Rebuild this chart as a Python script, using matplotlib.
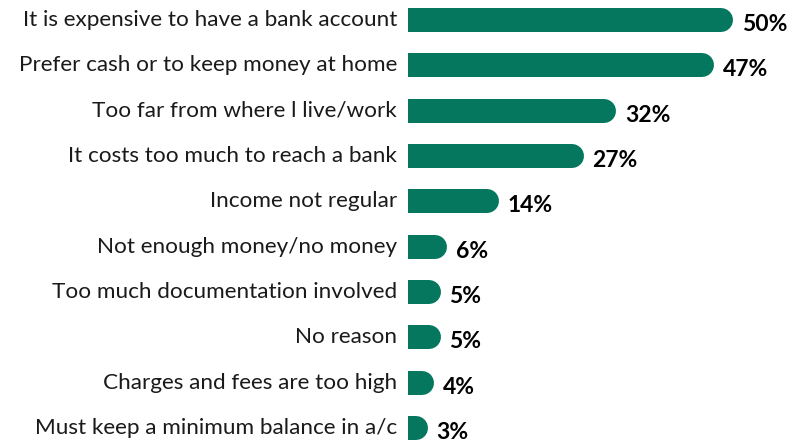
import matplotlib
matplotlib.use("Agg")
import matplotlib.pyplot as plt

categories = [
    "It is expensive to have a bank account",
    "Prefer cash or to keep money at home",
    "Too far from where l live/work",
    "It costs too much to reach a bank",
    "Income not regular",
    "Not enough money/no money",
    "Too much documentation involved",
    "No reason",
    "Charges and fees are too high",
    "Must keep a minimum balance in a/c",
]
values = [50, 47, 32, 27, 14, 6, 5, 5, 4, 3]

BAR_COLOR = "#05775f"
TEXT_COLOR = "#1a1a1a"
FONT = ["Lato", "DejaVu Sans"]

W, H, DPI = 812, 442, 100
fig = plt.figure(figsize=(W / DPI, H / DPI), dpi=DPI)

# axes placed in pixel terms: bars start at x=408, rows centred 20..428 px from top
left_px, px_per_unit, xmax = 408, 6.5, 60
row_top, row_bot = 20, 428
step = (row_bot - row_top) / (len(categories) - 1)
ax_top = row_top - step / 2
ax_bot = row_bot + step / 2
ax = fig.add_axes([left_px / W, (H - ax_bot) / H,
                   xmax * px_per_unit / W, (ax_bot - ax_top) / H])
ax.set_xlim(0, xmax)
ax.set_ylim(len(categories) - 0.5, -0.5)
ax.axis("off")

bar_px = 24  # bar thickness in pixels
lw_pt = bar_px * 72 / DPI
cap = (bar_px / 2) / px_per_unit  # round cap length in data units

for i, (cat, v) in enumerate(zip(categories, values)):
    # flat left edge (clipped at x=0), round right end reaching the value
    ax.plot([-cap * 2, v - cap], [i, i], color=BAR_COLOR, lw=lw_pt,
            solid_capstyle="round", clip_on=True)
    ax.text(-11 / px_per_unit, i, cat, ha="right", va="center",
            fontsize=16.2, color=TEXT_COLOR, family=FONT, clip_on=False)
    ax.text(v + 9 / px_per_unit, i + 0.1, f"{v}%", ha="left", va="center",
            fontsize=16.5, fontweight="bold", color="#000000", family=FONT,
            clip_on=False)

fig.savefig("out.png", dpi=DPI)
